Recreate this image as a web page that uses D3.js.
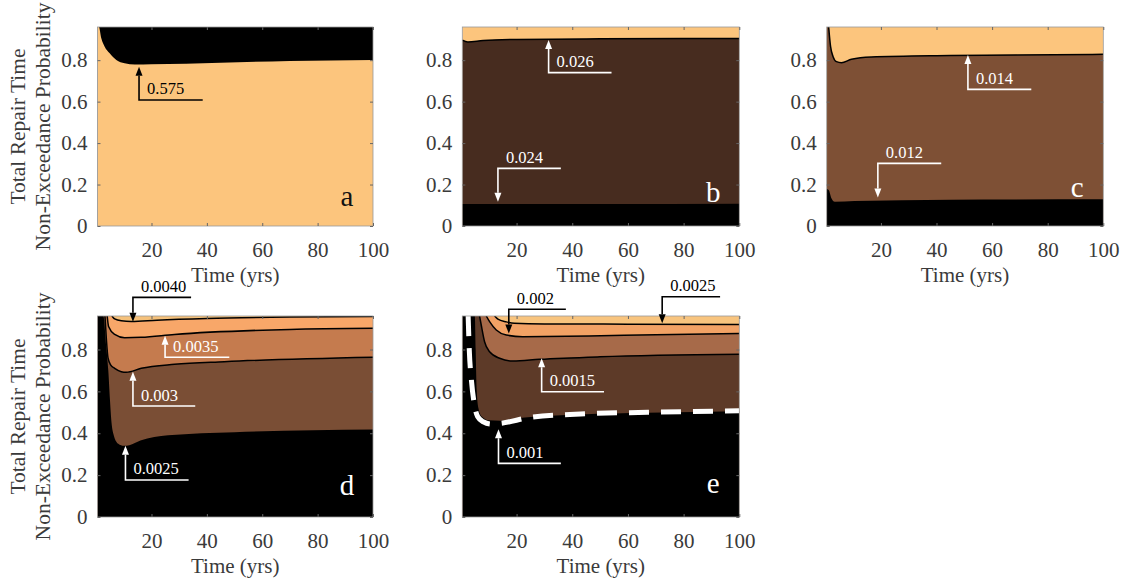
<!DOCTYPE html>
<html>
<head>
<meta charset="utf-8">
<script src="https://cdn.jsdelivr.net/npm/d3@7"></script>
<style>
  body { margin: 0; background: #fff; }
  text { font-family: "Liberation Serif", "Times New Roman", serif; }
</style>
</head>
<body>
<div id="chart"></div>
<script>
// axis ticks
const xTicks = [20, 40, 60, 80, 100];
const yTicks = [0, 0.2, 0.4, 0.6, 0.8];

// contour boundaries: time (yrs) and non-exceedance probability
// panel a
const a575T = [1.0, 1.9, 3.1, 4.9, 7.3, 10.3, 14, 20, 45, 70, 100];
const a575P = [0.96, 0.905, 0.865, 0.833, 0.801, 0.785, 0.779, 0.780, 0.788, 0.796, 0.801];
// panel b
const b026T = [0.5, 2.5, 8, 20, 50, 100];
const b026P = [0.897, 0.888, 0.895, 0.900, 0.903, 0.905];
const b024T = [0.5, 50, 100];
const b024P = [0.106, 0.106, 0.107];
// panel c
const c014T = [1.2, 1.9, 2.8, 4.0, 5.8, 9.4, 16.5, 45, 100];
const c014P = [0.96, 0.865, 0.817, 0.793, 0.788, 0.804, 0.815, 0.822, 0.828];
const c012T = [0.5, 1.2, 2.2, 3.4, 10.5, 45, 100];
const c012P = [0.178, 0.174, 0.134, 0.117, 0.121, 0.127, 0.129];
// panel d
const d0040T = [5.7, 6.7, 9.1, 12.7, 22, 40, 70, 100];
const d0040P = [0.96, 0.946, 0.937, 0.934, 0.940, 0.948, 0.955, 0.958];
const d0035T = [4.0, 4.5, 6.7, 10.3, 16.3, 28.3, 70, 100];
const d0035P = [0.96, 0.91, 0.872, 0.856, 0.858, 0.872, 0.896, 0.901];
const d003T = [3.2, 3.7, 4.3, 5.3, 6.7, 9.1, 10.9, 16.3, 28.3, 46.3, 100];
const d003P = [0.96, 0.85, 0.76, 0.725, 0.71, 0.694, 0.691, 0.71, 0.729, 0.742, 0.763];
const d0025T = [2.6, 3.6, 4.4, 5.0, 5.5, 6.5, 8.0, 10, 12, 16, 26, 50, 100];
const d0025P = [0.96, 0.82, 0.70, 0.56, 0.46, 0.385, 0.35, 0.34, 0.343, 0.365, 0.39, 0.405, 0.418];
// panel e
const e0025T = [12.1, 13.3, 16.3, 19.2, 30, 60, 100];
const e0025P = [0.96, 0.945, 0.932, 0.925, 0.922, 0.921, 0.920];
const e002T = [9.1, 10.3, 12.7, 16.3, 22.2, 46, 70, 100];
const e002P = [0.96, 0.933, 0.893, 0.869, 0.861, 0.864, 0.871, 0.877];
const e0015T = [6.7, 7.3, 8.5, 10.3, 13.9, 18.7, 28.2, 50, 100];
const e0015P = [0.96, 0.917, 0.837, 0.789, 0.758, 0.745, 0.753, 0.765, 0.777];
const e001T = [5.0, 5.3, 5.7, 6.3, 7.5, 10, 14, 22, 43, 67, 100];
const e001P = [0.96, 0.80, 0.60, 0.52, 0.48, 0.462, 0.46, 0.474, 0.49, 0.498, 0.505];
const e001DashT = [2.6, 3.0, 3.8, 4.8, 6.0, 8, 11, 14.5, 25, 43, 67, 100];
const e001DashP = [0.96, 0.80, 0.65, 0.54, 0.48, 0.455, 0.444, 0.448, 0.476, 0.492, 0.50, 0.507];

// contour labels with leader arrows
const annPanel = ["a", "b", "b", "c", "c", "d", "d", "d", "d", "e", "e", "e", "e"];
const annText = ["0.575", "0.026", "0.024", "0.014", "0.012", "0.0040", "0.0035", "0.003", "0.0025", "0.002", "0.0025", "0.0015", "0.001"];
const annT = [15.5, 31.5, 13.3, 51.3, 18.9, 13.3, 24.9, 13.3, 10.6, 17.2, 72.3, 29.0, 13.5];
const annTip = [0.768, 0.897, 0.117, 0.825, 0.137, 0.933, 0.866, 0.694, 0.340, 0.877, 0.925, 0.758, 0.419];
const annBase = [0.608, 0.740, 0.278, 0.659, 0.302, 1.049, 0.763, 0.530, 0.177, 0.992, 1.052, 0.598, 0.256];
const annEnd = [38.5, 54.1, 35.9, 74.1, 41.7, 34.3, 48.1, 35.8, 33.4, 37.7, 93.1, 51.4, 35.9];

const X_MIN = 0.5, X_MAX = 100, Y_MAX = 0.96;

// layout of each axes (pixels) plus fill colours
const panels = [
  { id: "a", box: [97.5, 27, 373, 226], top: "#000000", yTitle: true, letter: "#111", letterDy: 20,
    layers: [{ t: a575T, p: a575P, fill: "#FCC57D", line: false }] },
  { id: "b", box: [462.3, 27, 739.3, 226], top: "#FCC57D", letter: "#fff", letterDy: 24,
    layers: [{ t: b026T, p: b026P, fill: "#472C1F", line: true },
             { t: b024T, p: b024P, fill: "#000000", line: false }] },
  { id: "c", box: [826.7, 27, 1103.3, 226], top: "#FCC57D", letter: "#fff", letterDy: 29,
    layers: [{ t: c014T, p: c014P, fill: "#7E5035", line: true },
             { t: c012T, p: c012P, fill: "#000000", line: false }] },
  { id: "d", box: [97.5, 316, 373, 517], top: "#F5C17B", yTitle: true, letter: "#fff", letterDy: 22,
    layers: [{ t: d0040T, p: d0040P, fill: "#F8A769", line: true },
             { t: d0035T, p: d0035P, fill: "#C57B4E", line: true },
             { t: d003T, p: d003P, fill: "#7A4E35", line: true },
             { t: d0025T, p: d0025P, fill: "#000000", line: false }] },
  { id: "e", box: [462.3, 316, 739.3, 517], top: "#F8C47E", letter: "#fff", letterDy: 24,
    layers: [{ t: e0025T, p: e0025P, fill: "#F2A265", line: true },
             { t: e002T, p: e002P, fill: "#A76A49", line: true },
             { t: e0015T, p: e0015P, fill: "#5D3A28", line: true },
             { t: e001T, p: e001P, fill: "#000000", line: false }],
    dash: { t: e001DashT, p: e001DashP } }
];

const svg = d3.select("#chart").append("svg")
    .attr("width", 1131)
    .attr("height", 581);

function points(T, P) {
  return T.map((t, i) => ({ t: t, p: P[i] }));
}

panels.forEach(pn => {
  const [x0, y0, x1, y1] = pn.box;
  const x = d3.scaleLinear().domain([X_MIN, X_MAX]).range([x0, x1]);
  const y = d3.scaleLinear().domain([0, Y_MAX]).range([y1, y0]);
  const g = svg.append("g");

  const clipId = "clip-" + pn.id;
  g.append("clipPath").attr("id", clipId)
    .append("rect").attr("x", x0).attr("y", y0).attr("width", x1 - x0).attr("height", y1 - y0);
  const plot = g.append("g").attr("clip-path", "url(#" + clipId + ")");

  // background = highest band
  plot.append("rect")
    .attr("x", x0).attr("y", y0).attr("width", x1 - x0).attr("height", y1 - y0)
    .attr("fill", pn.top);

  const area = d3.area()
    .x(d => x(d.t)).y0(y(0)).y1(d => y(d.p))
    .curve(d3.curveMonotoneX);
  const line = d3.line()
    .x(d => x(d.t)).y(d => y(d.p))
    .curve(d3.curveMonotoneX);

  pn.layers.forEach(l => {
    const pts = points(l.t, l.p);
    const fillPts = pts[0].t > X_MIN ? [{ t: X_MIN, p: Y_MAX }].concat(pts) : pts;
    plot.append("path").datum(fillPts).attr("d", area).attr("fill", l.fill);
  });
  pn.layers.forEach(l => {
    if (!l.line) return;
    plot.append("path").datum(points(l.t, l.p)).attr("d", line)
      .attr("fill", "none").attr("stroke", "#000").attr("stroke-width", 1.5);
  });
  if (pn.dash) {
    plot.append("path").datum(points(pn.dash.t, pn.dash.p)).attr("d", line)
      .attr("fill", "none").attr("stroke", "#fff").attr("stroke-width", 5)
      .attr("stroke-dasharray", "20,12");
  }

  // axes box
  g.append("rect")
    .attr("x", x0).attr("y", y0).attr("width", x1 - x0).attr("height", y1 - y0)
    .attr("fill", "none").attr("stroke", "#999").attr("stroke-width", 0.8);

  const xAxis = g.append("g")
    .attr("transform", "translate(0," + y1 + ")")
    .call(d3.axisBottom(x).tickValues(xTicks).tickSizeInner(-3).tickSizeOuter(0).tickPadding(16));
  const xTop = g.append("g")
    .attr("transform", "translate(0," + y0 + ")")
    .call(d3.axisTop(x).tickValues(xTicks).tickSizeInner(-3).tickSizeOuter(0).tickFormat(""));
  const yAxis = g.append("g")
    .attr("transform", "translate(" + x0 + ",0)")
    .call(d3.axisLeft(y).tickValues(yTicks).tickSizeInner(-3).tickSizeOuter(0).tickPadding(10)
      .tickFormat(d => d === 0 ? "0" : d.toFixed(1)));
  const yRight = g.append("g")
    .attr("transform", "translate(" + x1 + ",0)")
    .call(d3.axisRight(y).tickValues(yTicks).tickSizeInner(-3).tickSizeOuter(0).tickFormat(""));

  [xAxis, xTop, yAxis, yRight].forEach(a => {
    a.select(".domain").remove();
    a.selectAll(".tick line").attr("stroke", "#666");
    a.selectAll(".tick text")
      .attr("fill", "#3a3a3a")
      .style("font-size", "21px")
      .style("font-family", "'Liberation Serif', serif");
  });

  // x title
  g.append("text")
    .attr("x", (x0 + x1) / 2).attr("y", y1 + 56)
    .attr("text-anchor", "middle")
    .attr("fill", "#3a3a3a")
    .style("font-size", "21px")
    .text("Time (yrs)");

  if (pn.yTitle) {
    const cy = (y0 + y1) / 2;
    g.append("text")
      .attr("transform", "translate(25," + cy + ") rotate(-90)")
      .attr("text-anchor", "middle").attr("fill", "#3a3a3a")
      .style("font-size", "21.5px")
      .text("Total Repair Time");
    g.append("text")
      .attr("transform", "translate(50," + cy + ") rotate(-90)")
      .attr("text-anchor", "middle").attr("fill", "#3a3a3a")
      .style("font-size", "21.5px")
      .text("Non-Exceedance Probability");
  }

  // panel letter
  g.append("text")
    .attr("x", x1 - 26).attr("y", y1 - pn.letterDy)
    .attr("text-anchor", "middle")
    .attr("fill", pn.letter)
    .style("font-size", "29px")
    .text(pn.id);

  // contour labels
  annPanel.forEach((id, i) => {
    if (id !== pn.id) return;
    const ax = x(annT[i]), tipY = y(annTip[i]), baseY = y(annBase[i]), endX = x(annEnd[i]);
    const col = (id === "a" || annBase[i] > Y_MAX) ? "#000" : "#fff";
    const up = annTip[i] > annBase[i];
    const head = 9, half = 3.5;
    const neck = up ? tipY + head : tipY - head;
    g.append("path")
      .attr("d", "M" + endX + "," + baseY + "H" + ax + "V" + neck)
      .attr("fill", "none").attr("stroke", col).attr("stroke-width", 1.6);
    g.append("path")
      .attr("d", "M" + ax + "," + tipY + "L" + (ax - half) + "," + neck + "L" + (ax + half) + "," + neck + "Z")
      .attr("fill", col);
    g.append("text")
      .attr("x", ax + 8).attr("y", baseY - 5.5)
      .attr("fill", col)
      .style("font-size", "16.5px")
      .text(annText[i]);
  });
});
</script>
</body>
</html>
